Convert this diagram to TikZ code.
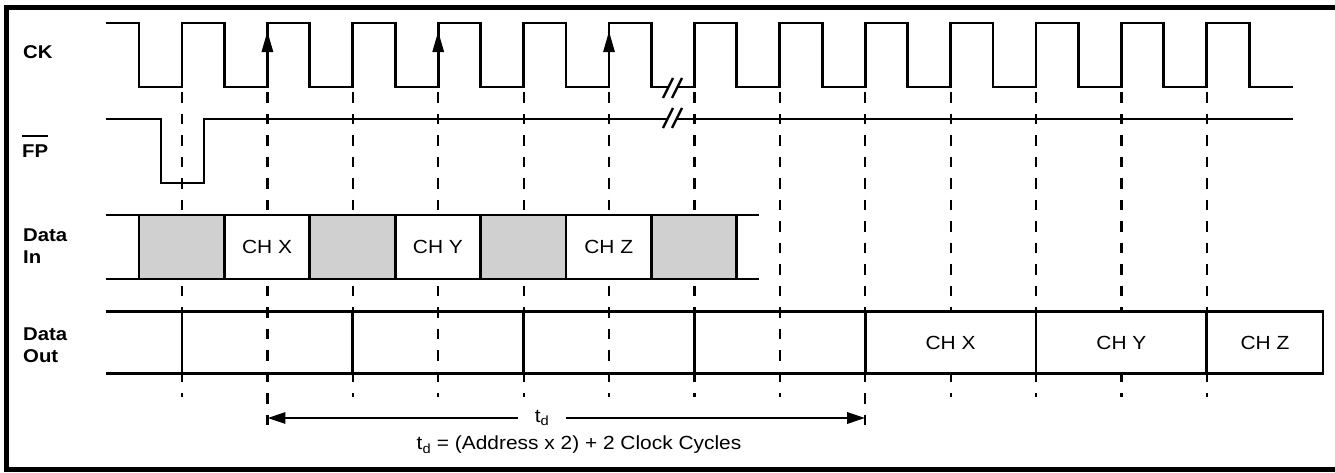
\documentclass[tikz,border=0pt]{standalone}
\usepackage{fontspec}
\setmainfont{Liberation Sans}[FakeStretch=1.1]
\usepackage{tikz}
\usetikzlibrary{arrows.meta}
\definecolor{shade}{RGB}{208,208,208}
\tikzset{
  sig/.style={line width=2.9pt},
  guide/.style={line width=2.2pt, dash pattern=on 10.5pt off 11pt},
  lbl/.style={font=\fontsize{18.5}{22}\selectfont\bfseries, anchor=west, inner sep=0pt, align=left},
  txt/.style={font=\fontsize{19}{22}\selectfont},
  edgearr/.style={sig, -{Triangle[length=21pt,width=11pt]}},
  tdarr/.style={sig, -{Triangle[length=18pt,width=11pt]}}
}
\begin{document}
\begin{tikzpicture}[x=1pt,y=-1pt]
\useasboundingbox (0,0) rectangle (1335,472);
\draw[line width=5pt] (6.5,7.5) rectangle (1345,469.5);
\foreach \k in {0,...,12}{
  \pgfmathsetmacro\gx{182+85.4*\k}
  \ifnum\k=1 \def\gy{430}\else\ifnum\k=8 \def\gy{430}\else\def\gy{397}\fi\fi
  \coordinate (r\k) at (\gx,87);
  \draw[guide] (\gx,92) -- (\gx,\gy);
}
\draw[sig] (106,23) foreach \k in {0,...,12}{ -- ({139+85.4*\k},23) -- ({139+85.4*\k},87) -- ({182+85.4*\k},87) -- ({182+85.4*\k},23) } -- (1249.2,23) -- (1249.2,87) -- (1293,87);
\foreach \k in {1,3,5} \draw[edgearr] ({182+85.4*\k},60) -- ({182+85.4*\k},31);
\draw[sig] (106,119) -- (161,119) -- (161,183) -- (204,183) -- (204,119) -- (1293,119);
\foreach \yy in {88,118}{
  \fill[white] (663,{\yy+10}) -- (673,{\yy-10}) -- (682,{\yy-10}) -- (672,{\yy+10}) -- cycle;
  \draw[line width=2.4pt] (663,{\yy+10}) -- (673,{\yy-10}) (672,{\yy+10}) -- (682,{\yy-10});
}
\draw[sig] (106,215) -- (759,215) (106,279) -- (759,279);
\foreach \k/\c in {0/shade,1/white,2/shade,3/white,4/shade,5/white,6/shade}
  \draw[sig, fill=\c] ({139+85.4*\k},215) rectangle ({224.4+85.4*\k},279);
\foreach \k/\t in {1/CH X,3/CH Y,5/CH Z}
  \node[txt] (din\k) at ({181.7+85.4*\k},247) {\t};
\draw[sig] (106,311.5) -- (1323,311.5) (106,373.5) -- (1323,373.5);
\foreach \k in {0,2,4,6} \draw[sig] (r\k |- 0,311.5) -- (r\k |- 0,373.5);
\foreach \xa/\xb/\t [count=\i] in {865.2/1036/CH X,1036/1206.8/CH Y,1206.8/1323/CH Z}{
  \draw[sig, fill=white] (\xa,311.5) rectangle (\xb,373.5);
  \node[txt] (dout\i) at ({(\xa+\xb)/2},342.5) {\t};
}
\node[lbl] (ck) at (23,52.5) {CK};
\node[lbl] (fp) at (22,151) {FP};
\draw[line width=2pt] ([yshift=8pt]fp.north west) -- ([yshift=8pt]fp.north east);
\node[lbl] (din) at (23,246.5) {Data\\In};
\node[lbl] (dout) at (23,345.5) {Data\\Out};
\coordinate (tdL) at (r1 |- 0,418);
\coordinate (tdR) at (r8 |- 0,418);
\node[txt, inner xsep=17pt] (td) at (542,418) {t\textsubscript{d}};
\draw[tdarr] (td.west) -- (tdL);
\draw[tdarr] (td.east) -- (tdR);
\node[txt] (tdeq) at (579,445) {t\textsubscript{d} = (Address x 2) + 2 Clock Cycles};
\end{tikzpicture}
\end{document}
